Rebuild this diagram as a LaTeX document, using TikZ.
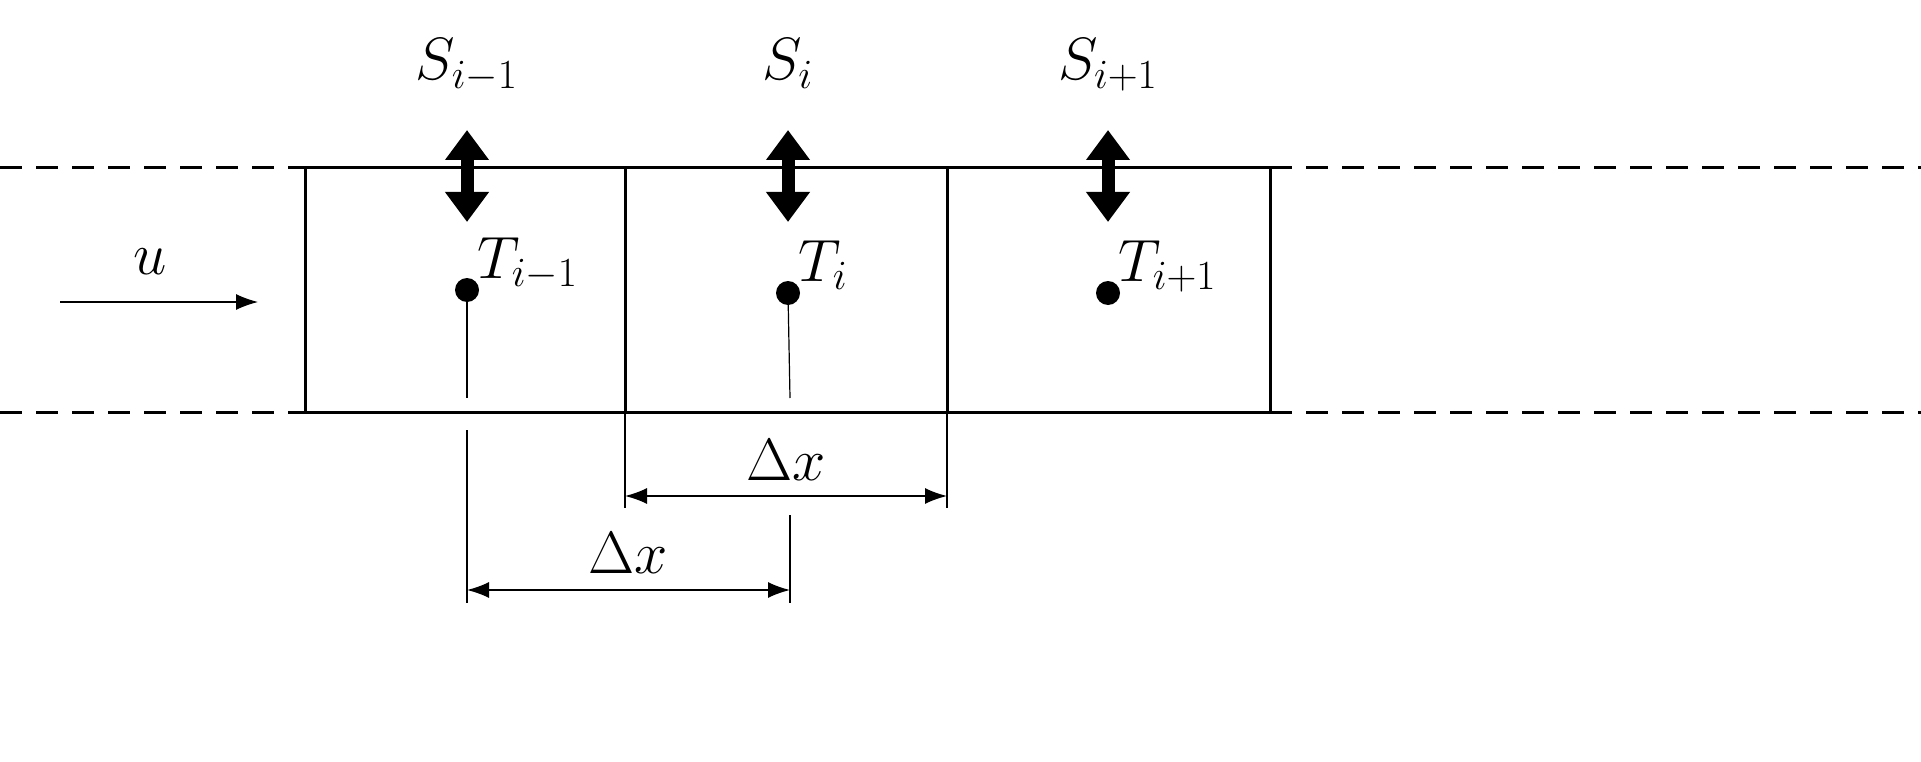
\documentclass[tikz,border=0pt]{standalone}
\usepackage{tikz}
\usetikzlibrary{arrows.meta,positioning,calc}
\def\cells{{467/290/1/{i-1}}, {788/293/2/{i}}, {1108/293/3/{i+1}}}
\begin{document}
\begin{tikzpicture}[x=1pt,y=-1pt,
    every node/.style={inner sep=0pt},
    wall/.style={line width=3pt},
    openend/.style={line width=3pt,dash pattern=on 22pt off 14pt},
    flux/.style={line width=13pt,{Triangle[width=42pt,length=30pt]}-{Triangle[width=42pt,length=30pt]}},
    dim/.style={line width=1.5pt,{Latex[length=22pt,width=16pt]}-{Latex[length=22pt,width=16pt]}},
    fine/.style={line width=1.2pt},
    lbl/.style={font=\fontsize{24}{28}\selectfont,scale=2.4}]
  \useasboundingbox (0,0) rectangle (1921,762);

  % channel
  \draw[openend] (0,168) -- (305,168) (1270,168) -- (1921,168);
  \draw[openend] (0,412) -- (305,412) (1270,412) -- (1921,412);
  \draw[wall] (305,168) rectangle (625,412);
  \draw[wall] (625,168) rectangle (947,412);
  \draw[wall] (947,168) rectangle (1270,412);

  % inflow
  \coordinate (u0) at (60,302);
  \coordinate (u1) at (258,302);
  \draw[fine,-{Latex[length=22pt,width=16pt]}] (u0) -- (u1);
  \node[lbl] (ulbl) at (150,262) {$u$};

  % cells
  \foreach \x/\y/\n/\s in \cells {%
    \node[circle,fill,minimum size=24pt] (T\n) at (\x,\y) {};
    \node[lbl,anchor=base west] (Tl\n) at (\x+10,\y-12) {$T_{\s}$};
    \coordinate (Sa\n) at (\x,130);
    \coordinate (Sb\n) at (\x,222);
    \draw[flux] (Sa\n) -- (Sb\n);
    \node[lbl,anchor=base] (Sl\n) at (\x,80) {$S_{\s}$};
  }

  % extension lines
  \coordinate (e1) at (467,398);
  \coordinate (e2) at (790,398);
  \draw[fine] (T1) -- (e1);
  \draw[fine] (T2) -- (e2);
  \coordinate (d1a) at (467,430);
  \coordinate (d1b) at (467,603);
  \coordinate (d2a) at (790,515);
  \coordinate (d2b) at (790,603);
  \coordinate (d3a) at (625,412);
  \coordinate (d3b) at (625,508);
  \coordinate (d4a) at (947,412);
  \coordinate (d4b) at (947,508);
  \draw[fine] (d1a) -- (d1b) (d2a) -- (d2b) (d3a) -- (d3b) (d4a) -- (d4b);

  % dimensions
  \coordinate (dx1a) at (625,496);
  \coordinate (dx1b) at (947,496);
  \coordinate (dx2a) at (467,590);
  \coordinate (dx2b) at (790,590);
  \draw[dim] (dx1a) -- (dx1b);
  \draw[dim] (dx2a) -- (dx2b);
  \node[lbl,anchor=base] (dxl1) at (786,480) {$\Delta x$};
  \node[lbl,anchor=base] (dxl2) at (628,573) {$\Delta x$};
\end{tikzpicture}
\end{document}
